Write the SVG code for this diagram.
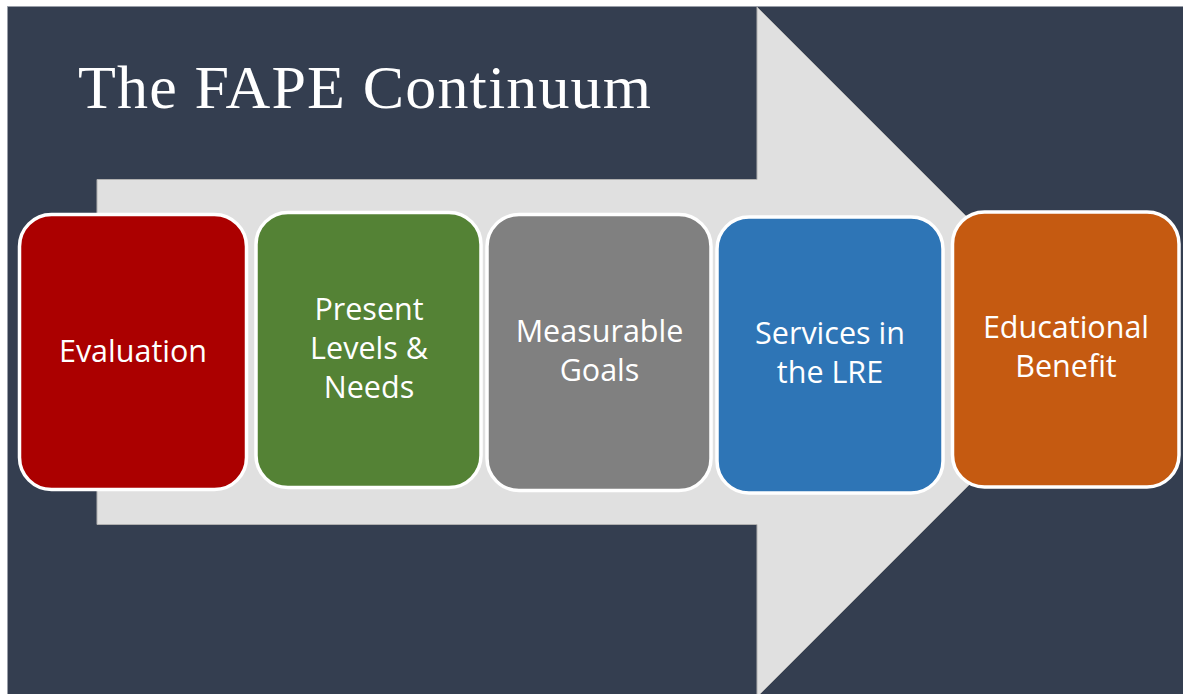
<svg xmlns="http://www.w3.org/2000/svg" width="1183" height="694" viewBox="0 0 1183 694">
  <style>
    .box { stroke: #FFFFFF; stroke-width: 3.5; }
    .lbl { font-family: "Open Sans", "Liberation Sans", sans-serif; font-size: 30.5px; fill: #FFFFFF; text-anchor: middle; }
    .title { font-family: "Liberation Serif", "DejaVu Serif", serif; font-size: 62px; fill: #FFFFFF; }
  </style>
  <rect x="0" y="0" width="1183" height="694" fill="#FFFFFF"/>
  <rect id="background" x="7.5" y="6.5" width="1176" height="688" fill="#343E50" stroke="#9A9FA8" stroke-width="0.6"/>
  <text id="title" class="title" x="78" y="107.5" textLength="573" lengthAdjust="spacing">The FAPE Continuum</text>
  <g id="connectors">
    <polygon id="big-arrow" points="97,179.5 757,179.5 757,7 1102,352 757,697 757,524.5 97,524.5" fill="#E0E0E0" stroke="#B0B0B0" stroke-width="1"/>
  </g>
  <g id="node-evaluation">
    <rect class="box" x="19.5" y="214.5" width="227" height="275" rx="32" fill="#AB0000"/>
    <text class="lbl" x="133" y="362">Evaluation</text>
  </g>
  <g id="node-present-levels">
    <rect class="box" x="256" y="212.5" width="225" height="275" rx="32" fill="#548235"/>
    <text class="lbl" x="369" y="320">Present</text>
    <text class="lbl" x="369" y="359">Levels &amp;</text>
    <text class="lbl" x="369" y="398">Needs</text>
  </g>
  <g id="node-measurable-goals">
    <rect class="box" x="487" y="214.5" width="224" height="276" rx="32" fill="#808080"/>
    <text class="lbl" x="599.5" y="341.5">Measurable</text>
    <text class="lbl" x="599.5" y="380.5">Goals</text>
  </g>
  <g id="node-services-lre">
    <rect class="box" x="717" y="217" width="226" height="276" rx="32" fill="#2E75B6"/>
    <text class="lbl" x="830" y="344">Services in</text>
    <text class="lbl" x="830" y="383">the LRE</text>
  </g>
  <g id="node-educational-benefit">
    <rect class="box" x="952.5" y="212" width="226.5" height="275" rx="32" fill="#C55A11"/>
    <text class="lbl" x="1066" y="338">Educational</text>
    <text class="lbl" x="1066" y="377">Benefit</text>
  </g>
</svg>
